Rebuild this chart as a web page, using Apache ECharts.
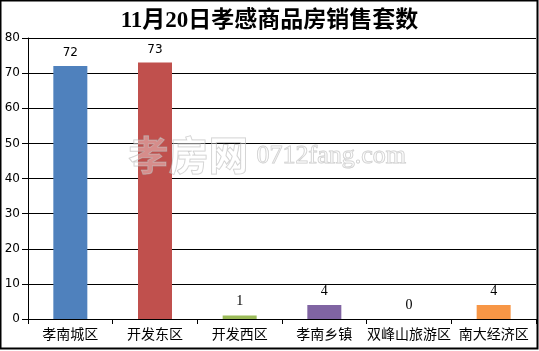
<!DOCTYPE html>
<html><head><meta charset="utf-8">
<script src="https://cdn.jsdelivr.net/npm/echarts@6/dist/echarts.min.js"></script>
<style>html,body{margin:0;padding:0;background:#fff}#c{width:539px;height:351px}</style>
</head><body><div id="c"></div>
<script>
const categories = ['孝南城区','开发东区','开发西区','孝南乡镇','双峰山旅游区','南大经济区'];
const values = [72, 73, 1, 4, 0, 4];
const colors = ['#4F81BD','#C0504D','#9BBB59','#8064A2','#4BACC6','#F79646'];
const yTicks = [0, 80, 10];
const title = '11月20日孝感商品房销售套数';

const chart = echarts.init(document.getElementById('c'));
chart.setOption({
  animation: false,
  backgroundColor: '#fff',
  title: {
    text: title, left: 'center', top: 5,
    textStyle: {fontFamily: '"Liberation Serif","Noto Sans CJK SC"', fontSize: 23, fontWeight: 'bold', color: '#000'}
  },
  grid: {left: 28, right: 3, top: 38, bottom: 32},
  graphic: [
    {type: 'rect', shape: {x: 0.5, y: 0.5, width: 537, height: 348}, style: {fill: 'none', stroke: '#000', lineWidth: 2}, z: 100},
    {type: 'text', left: 128, top: 134, z: 50, style: {text: '孝房网', font: 'bold 40px "Noto Sans CJK SC"', fill: 'rgba(255,255,255,0.35)', stroke: 'rgba(170,170,170,0.6)', lineWidth: 1}},
    {type: 'text', left: 256, top: 143, z: 50, style: {text: '0712fang.com', font: '26px "Liberation Serif"', fill: 'rgba(255,255,255,0.35)', stroke: 'rgba(170,170,170,0.6)', lineWidth: 1}}
  ],
  xAxis: {
    type: 'category', data: categories,
    axisLine: {lineStyle: {color: '#000', width: 1}},
    axisTick: {show: true, length: 5, lineStyle: {color: '#000'}},
    axisLabel: {color: '#000', fontSize: 14, fontFamily: '"Noto Sans CJK SC"', margin: 8, interval: 0}
  },
  yAxis: {
    type: 'value', min: yTicks[0], max: yTicks[1], interval: yTicks[2],
    axisLine: {show: true, lineStyle: {color: '#000'}},
    axisTick: {show: true, length: 6, lineStyle: {color: '#000'}},
    axisLabel: {color: '#000', fontSize: 12, fontFamily: '"DejaVu Sans"', margin: 8},
    splitLine: {lineStyle: {color: '#000', width: 1}}
  },
  series: [{
    type: 'bar', barWidth: 34,
    data: values.map((v, i) => ({value: v, itemStyle: {color: colors[i]},
      label: {fontFamily: i < 2 ? '"DejaVu Sans"' : '"Liberation Serif"', fontSize: i < 2 ? 12 : 14}})),
    label: {show: true, position: 'top', color: '#000', distance: 7}
  }]
});
</script></body></html>
